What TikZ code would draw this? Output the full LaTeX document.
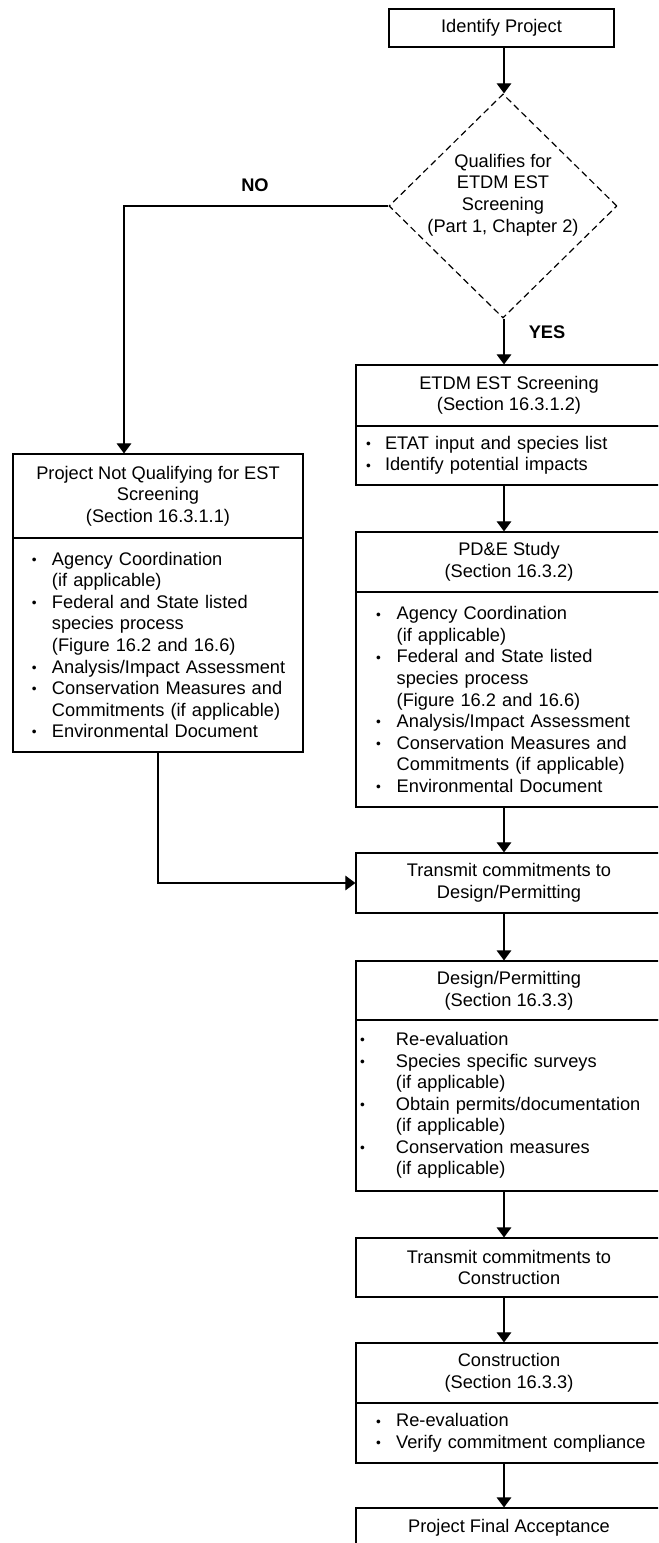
\documentclass[tikz,border=0pt]{standalone}
\usepackage{fontspec}
\setmainfont{Liberation Sans}
\usetikzlibrary{shapes.geometric, arrows.meta, positioning}

% bullet offset and bullet-to-text gap
\newlength\bo
\newlength\bw
\newcommand\bi{\hspace*{\bo}\makebox[\bw][l]{\raisebox{0.4pt}{\fontsize{7.5}{7.5}\selectfont\textbullet}}}
\newcommand\ci{\hspace*{\bo}\hspace*{\bw}}

\begin{document}
\begin{tikzpicture}[x=0.548pt, y=-0.548pt, line width=0.65pt,
    box/.style={draw, minimum width=167.7pt, inner sep=0pt, align=center,
        font=\fontsize{10}{11.8}\selectfont},
    list/.style 2 args={draw, text width=167.7pt, inner sep=0pt, align=left,
        font=\fontsize{10}{11.8}\selectfont,
        execute at begin node={\setlength\bo{#1}\setlength\bw{#2}}},
    arr/.style={-{Triangle[width=8pt,length=5.5pt]}},
    lbl/.style={font=\fontsize{10}{12}\selectfont\bfseries}]

        \useasboundingbox (0,0) rectangle (658,1543);
        \clip (0,0) rectangle (658,1543);

        % --- 1. Start and decision ---
        \node[box, minimum width=123.3pt, minimum height=20.8pt] (ident) at (501.5,28) {Identify Project};
        \node[draw, diamond, dash pattern=on 3.6pt off 2.2pt, minimum width=125pt,
            minimum height=122.8pt, inner sep=0pt] (qual) at (503,206) {};
        \node[align=center, font=\fontsize{10}{11.8}\selectfont] (qualtxt) at (503,195)
            {Qualifies for\\ETDM EST\\Screening\\(Part 1, Chapter 2)};
        \node[lbl] (no) at (255,185) {NO};
        \node[lbl] (yes) at (547,332) {YES};
        \coordinate (spine) at (504,0);
        \coordinate (nox) at (124,0);

        % --- 2. Not qualifying (left column) ---
        \node[box, minimum width=159pt, minimum height=46pt] (notq) at (158,496)
            {Project Not Qualifying for EST\\Screening\\(Section 16.3.1.1)};
        \node[list={10.4pt}{11pt}, text width=159pt, minimum height=117.3pt] (notqlist) at (158,645)
            {\bi Agency Coordination\\\ci (if applicable)\\
             \bi Federal and State listed\\\ci species process\\\ci (Figure 16.2 and 16.6)\\
             \bi Analysis/Impact Assessment\\
             \bi Conservation Measures and\\\ci Commitments (if applicable)\\
             \bi Environmental Document};

        % --- 3. Screening and PD&E (right column) ---
        \node[box, minimum height=33.4pt] (etdm) at (509,395.5)
            {ETDM EST Screening\\(Section 16.3.1.2)};
        \node[list={5.5pt}{10.4pt}, minimum height=32.3pt] (etdmlist) at (509,455.5)
            {\bi ETAT input and species list\\\bi Identify potential impacts};

        \node[box, minimum height=32.9pt] (pde) at (509,562)
            {PD\&E Study\\(Section 16.3.2)};
        \node[list={11pt}{11.3pt}, minimum height=117.8pt] (pdelist) at (509,699.5)
            {\bi Agency Coordination\\\ci (if applicable)\\
             \bi Federal and State listed\\\ci species process\\\ci (Figure 16.2 and 16.6)\\
             \bi Analysis/Impact Assessment\\
             \bi Conservation Measures and\\\ci Commitments (if applicable)\\
             \bi Environmental Document};

        % --- 4. Design and construction ---
        \node[box, minimum height=32.9pt] (trdp) at (509,883)
            {Transmit commitments to\\Design/Permitting};
        \node[box, minimum height=32.3pt] (design) at (509,990.5)
            {Design/Permitting\\(Section 16.3.3)};
        \node[list={2.2pt}{19.7pt}, minimum height=93.7pt] (designlist) at (509,1105.5)
            {\bi Re-evaluation\\
             \bi Species specific surveys\\\ci (if applicable)\\
             \bi Obtain permits/documentation\\\ci (if applicable)\\
             \bi Conservation measures\\\ci (if applicable)};
        \node[box, minimum height=32.3pt] (trcon) at (509,1267.5)
            {Transmit commitments to\\Construction};
        \node[box, minimum height=32.9pt] (cons) at (509,1373)
            {Construction\\(Section 16.3.3)};
        \node[list={11pt}{11pt}, minimum height=32.9pt] (conslist) at (509,1433)
            {\bi Re-evaluation\\\bi Verify commitment compliance};
        \node[box, minimum height=21.9pt] (final) at (509,1528) {Project Final Acceptance};

        % --- 5. Connectors ---
        \draw[arr] (ident.south -| spine) -- (qual.north -| spine);
        \draw[arr] (qual.south -| spine) -- (etdm.north -| spine);
        \draw[arr] (qual.west) -| (nox |- notq.north);
        \draw[arr] (etdmlist.south -| spine) -- (pde.north -| spine);
        \draw[arr] (pdelist.south -| spine) -- (trdp.north -| spine);
        \draw[arr] (notqlist.south) |- (trdp.west);
        \draw[arr] (trdp.south -| spine) -- (design.north -| spine);
        \draw[arr] (designlist.south -| spine) -- (trcon.north -| spine);
        \draw[arr] (trcon.south -| spine) -- (cons.north -| spine);
        \draw[arr] (conslist.south -| spine) -- (final.north -| spine);

\end{tikzpicture}
\end{document}
